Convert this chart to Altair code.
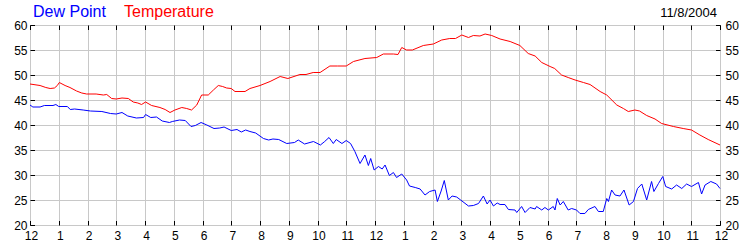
import altair as alt
import pandas as pd

# Temperature (F) readings: hour since midnight, value
temp_hours = [0.0, 0.35, 0.55, 0.7, 0.85, 0.95, 1.02, 1.22, 1.39, 1.62, 1.8, 1.97, 2.3, 2.55, 2.67,
              2.84, 3.0, 3.2, 3.42, 3.59, 3.75, 3.88, 4.02, 4.23, 4.52, 4.7, 4.87, 5.04, 5.28, 5.45,
              5.62, 5.8, 5.97, 6.2, 6.38, 6.55, 6.7, 6.84, 7.0, 7.13, 7.48, 7.65, 8.0, 8.35, 8.7,
              8.97, 9.39, 9.6, 9.85, 10.09, 10.43, 10.7, 11.0, 11.25, 11.65, 12.06, 12.29, 12.64,
              12.8, 12.93, 13.1, 13.3, 13.68, 14.03, 14.32, 14.6, 14.8, 15.02, 15.25, 15.42, 15.65,
              15.83, 16.06, 16.35, 16.7, 17.04, 17.33, 17.57, 17.8, 18.09, 18.25, 18.49, 18.72,
              18.96, 19.25, 19.48, 19.83, 20.06, 20.41, 20.64, 20.81, 21.04, 21.2, 21.45, 21.74,
              21.97, 22.38, 22.72, 23.01, 23.3, 23.59, 24.0]
temp_values = [48.2, 47.9, 47.5, 47.3, 47.4, 47.9, 48.5, 47.9, 47.5, 46.8, 46.4, 46.2, 46.2, 46.0, 46.1,
               45.3, 45.2, 45.4, 45.3, 44.6, 44.4, 44.1, 44.6, 43.9, 43.5, 43.1, 42.5, 43.0, 43.5, 43.3,
               43.0, 44.0, 46.0, 46.0, 47.0, 47.9, 47.7, 47.4, 47.3, 46.7, 46.7, 47.3, 47.9, 48.7, 49.7,
               49.3, 50.1, 50.1, 50.5, 50.5, 51.8, 51.8, 51.8, 52.7, 53.3, 53.5, 54.2, 54.2,
               54.1, 55.5, 55.0, 55.0, 55.9, 56.2, 57.0, 57.3, 57.3, 58.0, 57.5, 57.9, 57.8,
               58.2, 57.9, 57.2, 56.7, 55.9, 54.3, 53.8, 52.5, 51.7, 51.3, 50.0, 49.5,
               49.0, 48.5, 48.1, 46.7, 46.0, 44.0, 43.3, 42.7, 43.0, 42.8, 41.9, 41.2,
               40.3, 39.7, 39.3, 39.0, 38.0, 37.1, 36.0]

# Dew point (F) readings
dew_hours = [0.0, 0.1, 0.35, 0.5, 0.8, 0.9, 1.0, 1.3, 1.4, 1.55, 1.85, 2.1, 2.5, 2.8, 3.0, 3.2, 3.4,
             3.7, 3.95, 4.02, 4.2, 4.4, 4.6, 4.85, 4.95, 5.2, 5.4, 5.6, 5.75, 5.95, 6.15, 6.4, 6.6,
             6.75, 7.0, 7.2, 7.35, 7.5, 7.65, 7.85, 8.12, 8.3, 8.45, 8.65, 8.93, 9.2, 9.33, 9.55,
             9.86, 10.1, 10.25, 10.4, 10.55, 10.65, 10.85, 11.0, 11.15, 11.3, 11.48, 11.65, 11.77,
             11.85, 11.97, 12.12, 12.25, 12.35, 12.5, 12.64, 12.75, 12.93, 13.1, 13.2, 13.4, 13.57,
             13.74, 13.9, 14.09, 14.17, 14.3, 14.41, 14.55, 14.68, 14.84, 14.98, 15.25, 15.42, 15.6,
             15.77, 15.9, 16.0, 16.12, 16.25, 16.35, 16.52, 16.64, 16.87, 16.93, 17.1, 17.22, 17.39,
             17.57, 17.62, 17.8, 17.91, 18.03, 18.2, 18.26, 18.34, 18.44, 18.55, 18.72, 18.84, 19.01,
             19.13, 19.3, 19.42, 19.65, 19.77, 19.94, 20.06, 20.12, 20.23, 20.35, 20.52, 20.66,
             20.84, 20.99, 21.13, 21.28, 21.45, 21.62, 21.7, 21.86, 22.01, 22.11, 22.32, 22.49,
             22.67, 22.84, 23.01, 23.25, 23.36, 23.48, 23.68, 23.88, 24.0]
dew_values = [44.0, 43.6, 43.6, 43.9, 43.9, 44.1, 43.7, 43.7, 43.1, 43.2, 43.0, 42.8, 42.7, 42.3, 42.2,
              42.5, 41.8, 41.4, 41.5, 42.1, 41.5, 41.6, 40.8, 40.5, 40.7, 41.0, 40.9, 39.7, 39.9, 40.5,
              40.0, 39.3, 39.4, 39.6, 38.9, 39.1, 38.6, 39.0, 38.7, 38.4, 37.3, 37.0, 37.2, 37.1, 36.3,
              36.5, 37.0, 36.2, 36.7, 36.0, 36.7, 37.5, 36.3, 37.1, 36.3, 36.9, 36.3, 34.7, 32.3, 34.0,
              31.9, 33.3, 31.0, 31.7, 31.2, 32.0, 29.9, 30.5, 29.5, 30.2, 29.0, 27.8, 27.5, 27.2, 26.0,
              26.7, 27.0, 24.7, 26.8, 28.9, 25.0, 25.8, 25.6, 25.0, 23.8, 23.9, 24.3, 25.8, 24.2, 25.0,
              23.8, 24.4, 24.1, 24.1, 23.1, 23.0, 22.5, 23.7, 22.5, 23.5, 23.2, 23.7, 23.0, 23.5, 23.0,
              23.7, 23.0, 25.3, 24.0, 24.7, 23.0, 23.3, 23.0, 22.3, 22.3, 23.1, 23.7, 22.7, 22.7, 25.3,
              24.7, 27.0, 26.0, 25.8, 27.0, 24.0, 24.7, 27.3, 28.2, 25.0, 28.7, 26.7, 28.3, 29.7, 27.7,
              27.2, 28.0, 27.3, 28.2, 27.7, 28.5, 26.2, 28.0, 28.7, 28.2, 27.3]

hour_ticks = list(range(25))
hour_labels = ["12", "1", "2", "3", "4", "5", "6", "7", "8", "9", "10", "11",
               "12", "1", "2", "3", "4", "5", "6", "7", "8", "9", "10", "11", "12"]
y_ticks = [20, 25, 30, 35, 40, 45, 50, 55, 60]

title_dew = "Dew Point"
title_temp = "Temperature"
date_text = "11/8/2004"

FONT = "Liberation Sans"
GRID = "#c8c8c8"

temp_df = pd.DataFrame({"hour": temp_hours, "value": temp_values})
dew_df = pd.DataFrame({"hour": dew_hours, "value": dew_values})

label_expr = "[" + ",".join("'%s'" % s for s in hour_labels) + "][datum.value]"

xscale = alt.Scale(domain=[0, 24], nice=False, zero=False)
yscale = alt.Scale(domain=[20, 60], nice=False, zero=False)

temp_line = alt.Chart(temp_df).mark_line(color="#ff0000", strokeWidth=1).encode(
    x=alt.X("hour:Q", scale=xscale, title=None,
            axis=alt.Axis(orient="bottom", values=hour_ticks, labelExpr=label_expr,
                          grid=True, gridColor=GRID, domain=False, offset=-4.5,
                          tickSize=4.5, tickColor="black", labelPadding=5,
                          labelFlush=False, labelOffset=1, labelOverlap=False,
                          labelFont=FONT, labelFontSize=12, labelColor="black")),
    y=alt.Y("value:Q", scale=yscale, title=None,
            axis=alt.Axis(orient="left", values=y_ticks, grid=True, gridColor=GRID,
                          domain=False, offset=-4.5, tickSize=4.5, tickColor="black",
                          labelPadding=3, labelFlush=False, labelOverlap=False,
                          labelFont=FONT, labelFontSize=12, labelColor="black")),
)

dew_line = alt.Chart(dew_df).mark_line(color="#0000ff", strokeWidth=1).encode(
    x=alt.X("hour:Q", scale=xscale, title=None,
            axis=alt.Axis(orient="top", values=hour_ticks, labels=False, grid=False,
                          domain=False, offset=-4.5, tickSize=4.5, tickColor="black")),
    y=alt.Y("value:Q", scale=yscale, title=None,
            axis=alt.Axis(orient="right", values=y_ticks, grid=False, domain=False,
                          offset=-4.5, tickSize=4.5, tickColor="black", labelPadding=5,
                          labelFlush=False, labelOverlap=False,
                          labelFont=FONT, labelFontSize=12, labelColor="black")),
)

t_dew = alt.Chart(pd.DataFrame({"t": [title_dew]})).mark_text(
    font=FONT, fontSize=16, color="#0000ff", align="left", baseline="alphabetic"
).encode(text="t:N", x=alt.value(3), y=alt.value(-8))

t_temp = alt.Chart(pd.DataFrame({"t": [title_temp]})).mark_text(
    font=FONT, fontSize=16, color="#ff0000", align="left", baseline="alphabetic"
).encode(text="t:N", x=alt.value(94), y=alt.value(-8))

t_date = alt.Chart(pd.DataFrame({"t": [date_text]})).mark_text(
    font=FONT, fontSize=13, color="black", align="right", baseline="alphabetic"
).encode(text="t:N", x=alt.value(687), y=alt.value(-8.5))

chart = alt.layer(temp_line, dew_line, t_dew, t_temp, t_date).resolve_axis(
    x="independent", y="independent"
).properties(
    width=690, height=200,
    autosize=alt.AutoSizeParams(type="none"),
    padding={"left": 30, "top": 25, "right": 30, "bottom": 25},
    background="white",
).configure_view(stroke="black", strokeWidth=1)

chart.save("out.html", embed_options={"renderer": "svg", "actions": False})
